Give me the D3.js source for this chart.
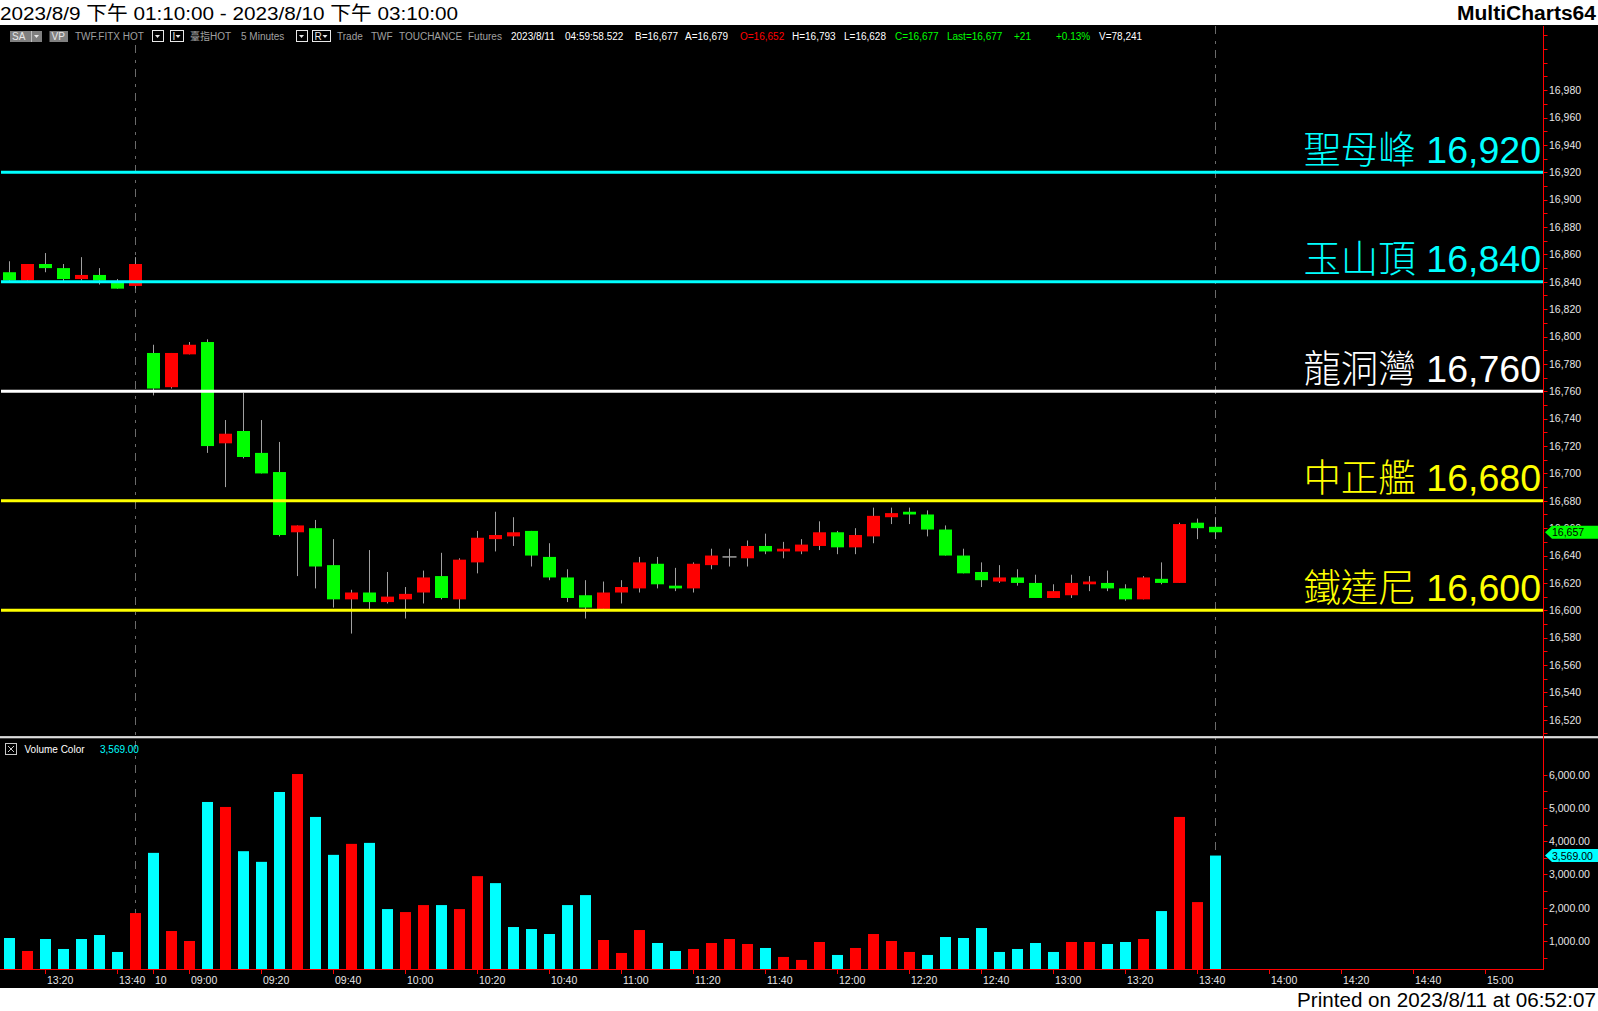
<!DOCTYPE html>
<html><head><meta charset="utf-8">
<script src="https://cdn.jsdelivr.net/npm/d3@7"></script>
<style>html,body{margin:0;padding:0;background:#fff;overflow:hidden}</style>
</head><body><svg id="c" width="1598" height="1011"></svg>
<script>
// ---------------- DATA ----------------
const day9Bars = ["13:10","13:15","13:20","13:25","13:30","13:35","13:40","13:45"];
const day10Bars = ["08:50","08:55","09:00","09:05","09:10","09:15","09:20","09:25","09:30","09:35","09:40","09:45","09:50","09:55",
  "10:00","10:05","10:10","10:15","10:20","10:25","10:30","10:35","10:40","10:45","10:50","10:55",
  "11:00","11:05","11:10","11:15","11:20","11:25","11:30","11:35","11:40","11:45","11:50","11:55",
  "12:00","12:05","12:10","12:15","12:20","12:25","12:30","12:35","12:40","12:45","12:50","12:55",
  "13:00","13:05","13:10","13:15","13:20","13:25","13:30","13:35","13:40","13:45"];
const futureSlots = ["13:50","13:55","14:00","14:05","14:10","14:15","14:20","14:25","14:30","14:35","14:40","14:45","14:50","14:55","15:00","15:05"];

const opens  = [16847,16841,16853,16850,16842,16845,16840,16837,
  16788,16763,16787,16796,16722,16731,16715,16701,16657,16660,16633,16608,16613,16606,16608,16613,16625,16608,
  16635,16652,16654,16658,16639,16624,16611,16601,16613,16616,16634,16618,16616,16633,16639,16638,16647,16643,
  16643,16647,16657,16646,16654,16668,16672,16670,16659,16640,16628,16621,16624,16620,16609,16611,16619,16620,
  16616,16608,16623,16620,16664,16661];
const highs  = [16855,16853,16861,16853,16858,16850,16842,16858,
  16794,16788,16796,16798,16739,16759,16739,16723,16662,16666,16652,16615,16644,16628,16617,16629,16642,16638,
  16658,16672,16668,16658,16649,16630,16622,16621,16622,16639,16639,16631,16635,16645,16645,16651,16656,16650,
  16652,16665,16658,16660,16675,16675,16675,16673,16662,16645,16635,16633,16630,16626,16619,16626,16625,16629,
  16619,16625,16635,16664,16667,16668];
const lows   = [16840,16840,16847,16840,16841,16838,16835,16835,
  16757,16762,16787,16715,16690,16711,16700,16654,16625,16616,16602,16583,16601,16605,16594,16605,16608,16601,
  16627,16643,16647,16632,16622,16606,16594,16600,16605,16613,16616,16614,16613,16630,16632,16632,16641,16638,
  16641,16644,16641,16641,16649,16663,16663,16654,16640,16627,16617,16620,16618,16609,16609,16609,16614,16614,
  16607,16608,16619,16620,16652,16652];
const closes = [16841,16853,16850,16842,16845,16841,16835,16853,
  16762,16788,16794,16720,16729,16712,16700,16655,16662,16632,16608,16613,16606,16610,16612,16624,16609,16637,
  16653,16655,16657,16640,16624,16609,16602,16613,16617,16635,16619,16616,16634,16640,16639,16647,16643,16645,
  16648,16657,16646,16655,16669,16671,16670,16659,16640,16627,16622,16624,16620,16609,16614,16620,16621,16616,
  16608,16624,16620,16663,16660,16657];
const volumes = [1090,700,1060,760,1060,1180,670,1840,
  3650,1300,1000,5180,5030,3700,3380,5480,6020,4730,3590,3920,3950,1960,1870,2080,2080,1960,
  2950,2740,1420,1360,1210,2080,2380,1030,640,1330,940,700,760,940,1060,910,790,520,
  430,970,580,790,1210,1000,670,580,1120,1090,1390,670,760,940,670,970,970,910,
  970,1060,1900,4730,2170,3569];
// volume colour: 1 = up (red), 0 = down (cyan)
const volumeUp = [0,1,0,0,0,0,0,1,
  0,1,1,0,1,0,0,0,1,0,0,1,0,0,1,1,0,1,
  1,0,0,0,0,0,0,1,1,1,0,0,1,1,1,1,0,1,
  1,1,0,1,1,1,1,0,0,0,0,0,0,0,0,1,1,0,
  0,1,0,1,1,0];

const levelNames  = ["聖母峰","玉山頂","龍洞灣","中正艦","鐵達尼"];
const levelPrices = [16920,16840,16760,16680,16600];

const priceTickValues = [16520,16540,16560,16580,16600,16620,16640,16660,16680,16700,16720,16740,16760,16780,16800,16820,16840,16860,16880,16900,16920,16940,16960,16980];
const volumeTickValues = [1000,2000,3000,4000,5000,6000];
const xTickKeys   = ["9 13:20","9 13:40","10 08:50","10 09:00","10 09:20","10 09:40","10 10:00","10 10:20","10 10:40","10 11:00","10 11:20","10 11:40","10 12:00","10 12:20","10 12:40","10 13:00","10 13:20","10 13:40","10 14:00","10 14:20","10 14:40","10 15:00"];
const xTickLabels = ["13:20","13:40","10","09:00","09:20","09:40","10:00","10:20","10:40","11:00","11:20","11:40","12:00","12:20","12:40","13:00","13:20","13:40","14:00","14:20","14:40","15:00"];
const sessionEndKeys = ["9 13:45","10 13:45"];
const lastPrice = 16657;
const lastVolume = 3569;

// ---------------- SETUP ----------------
const W = 1598, H = 1011;
const FONT = "'Liberation Sans', Arial, 'Noto Sans CJK TC', sans-serif";
const svg = d3.select("#c");

const barKeys = day9Bars.map(t => "9 " + t).concat(day10Bars.map(t => "10 " + t));
const slotKeys = barKeys.concat(futureSlots.map(t => "10 " + t));
const step = 18;
const x = d3.scalePoint().domain(slotKeys).range([9.5, 9.5 + step * (slotKeys.length - 1)]);
const yP = d3.scaleLinear().domain([16600, 16920]).range([610.3, 172.3]);
const yV = d3.scaleLinear().domain([128, 6000]).range([970, 774.7]);
const AXIS_X = 1543.5;
const PANE_SEP = 737;

const bars = barKeys.map((k, i) => ({k, o: opens[i], h: highs[i], l: lows[i], c: closes[i], v: volumes[i], up: volumeUp[i]}));

// background
svg.append("rect").attr("width", W).attr("height", H).attr("fill", "#fff");
svg.append("rect").attr("y", 25).attr("width", W).attr("height", 963).attr("fill", "#000");

// header
svg.append("text").attr("x", 0).attr("y", 19.5).attr("font-family", FONT).attr("font-size", 19)
  .attr("fill", "#000").attr("textLength", 458).attr("lengthAdjust", "spacingAndGlyphs")
  .text("2023/8/9 下午 01:10:00 - 2023/8/10 下午 03:10:00");
svg.append("text").attr("x", 1596).attr("y", 19.5).attr("text-anchor", "end").attr("font-family", FONT)
  .attr("font-weight", "bold").attr("font-size", 20).attr("fill", "#000")
  .attr("textLength", 139).attr("lengthAdjust", "spacingAndGlyphs")
  .text("MultiCharts64");
svg.append("text").attr("x", 1596).attr("y", 1007).attr("text-anchor", "end").attr("font-family", FONT)
  .attr("font-size", 20).attr("fill", "#000").attr("textLength", 299).attr("lengthAdjust", "spacingAndGlyphs")
  .text("Printed on 2023/8/11 at 06:52:07");

// toolbar
const tb = svg.append("g").attr("font-family", FONT).attr("font-size", 10);
function grayBox(x0, w, label) {
  tb.append("rect").attr("x", x0).attr("y", 31).attr("width", w).attr("height", 11).attr("fill", "#808080");
  tb.append("text").attr("x", x0 + 2).attr("y", 40).attr("fill", "#e8e8e8").text(label);
}
grayBox(10, 32, "SA");
tb.append("line").attr("x1", 31.5).attr("x2", 31.5).attr("y1", 31).attr("y2", 42).attr("stroke", "#c0c0c0");
tb.append("path").attr("d", "M34,35 L39,35 L36.5,38 Z").attr("fill", "#e8e8e8");
grayBox(49.5, 18.5, "VP");
function ddBox(x0, w, label) {
  tb.append("rect").attr("x", x0 + 0.5).attr("y", 30.5).attr("width", w).attr("height", 11)
    .attr("fill", "#000").attr("stroke", "#e8e8e8");
  if (label) tb.append("text").attr("x", x0 + 2.5).attr("y", 39.5).attr("fill", "#e8e8e8").text(label);
  const tx = label ? x0 + w - 5 : x0 + w / 2;
  tb.append("path").attr("d", `M${tx - 2.5},35 L${tx + 2.5},35 L${tx},38 Z`).attr("fill", "#e8e8e8");
}
const tbTexts = [
  [75, "TWF.FITX HOT", "#a0a0a0"], [190, "臺指HOT", "#a0a0a0"], [241, "5 Minutes", "#a0a0a0"],
  [337, "Trade", "#a0a0a0"], [371, "TWF", "#a0a0a0"], [399, "TOUCHANCE", "#a0a0a0"], [468, "Futures", "#a0a0a0"],
  [511, "2023/8/11", "#ffffff"], [565, "04:59:58.522", "#ffffff"], [635, "B=16,677", "#ffffff"], [685, "A=16,679", "#ffffff"],
  [740, "O=16,652", "#ff0000"], [792, "H=16,793", "#ffffff"], [844, "L=16,628", "#ffffff"], [895, "C=16,677", "#00ff00"],
  [947, "Last=16,677", "#00ff00"], [1014, "+21", "#00ff00"], [1056, "+0.13%", "#00ff00"], [1099, "V=78,241", "#ffffff"]
];
tbTexts.forEach(t => tb.append("text").attr("x", t[0]).attr("y", 39.5).attr("fill", t[2]).text(t[1]));
ddBox(152, 11, null);
ddBox(170, 13, "I");
ddBox(296, 11, null);
ddBox(312, 18, "R");

// session dashed lines
svg.append("g").selectAll("line").data(sessionEndKeys).join("line")
  .attr("x1", d => x(d)).attr("x2", d => x(d)).attr("y1", d => d.startsWith("9") ? 45 : 26).attr("y2", 969)
  .attr("stroke", "#6a6a6a").attr("stroke-width", 1).attr("stroke-dasharray", "8,7,3,6");

// candles
const cg = svg.append("g");
cg.selectAll("line.wick").data(bars).join("line").attr("class", "wick")
  .attr("x1", d => x(d.k)).attr("x2", d => x(d.k)).attr("y1", d => yP(d.h)).attr("y2", d => yP(d.l))
  .attr("stroke", "#a0a0a0").attr("stroke-width", 1);
cg.selectAll("rect.body").data(bars).join("rect").attr("class", "body")
  .attr("x", d => x(d.k) - (d.o === d.c ? 7 : 6.5))
  .attr("width", d => d.o === d.c ? 14 : 13)
  .attr("y", d => d.o === d.c ? yP(d.o) - 0.75 : yP(Math.max(d.o, d.c)))
  .attr("height", d => d.o === d.c ? 1.5 : Math.max(1.5, Math.abs(yP(d.o) - yP(d.c))))
  .attr("fill", d => d.c > d.o ? "#ff0000" : d.c < d.o ? "#00ff00" : "#a0a0a0");

// level lines + labels
const lv = svg.append("g");
const levelColors = ["#00ffff", "#00ffff", "#ffffff", "#ffff00", "#ffff00"];
levelPrices.forEach((p, i) => {
  lv.append("line").attr("x1", 1).attr("x2", AXIS_X - 0.5).attr("y1", yP(p)).attr("y2", yP(p))
    .attr("stroke", levelColors[i]).attr("stroke-width", 3);
  const t = lv.append("text").attr("x", 1541).attr("y", yP(p) - 9.5).attr("text-anchor", "end")
    .attr("font-family", FONT).attr("font-size", 37.5).attr("fill", levelColors[i]);
  t.append("tspan").attr("font-family", "'Noto Sans CJK TC', sans-serif").attr("font-weight", 300).text(levelNames[i]);
  t.append("tspan").text(" " + d3.format(",")(p));
});

// volume bars
svg.append("g").selectAll("rect").data(bars).join("rect")
  .attr("x", d => x(d.k) - 5.5).attr("width", 11)
  .attr("y", d => yV(d.v)).attr("height", d => yV.range()[0] - yV(d.v))
  .attr("fill", d => d.up ? "#ff0000" : "#00ffff");

// pane separator
svg.append("rect").attr("x", 0).attr("y", PANE_SEP - 1).attr("width", W).attr("height", 2.5).attr("fill", "#8a8a8a");
svg.append("rect").attr("x", 0).attr("y", PANE_SEP - 0.5).attr("width", W).attr("height", 1.2).attr("fill", "#ffffff");

// volume pane label
const vl = svg.append("g").attr("font-family", FONT).attr("font-size", 10);
vl.append("rect").attr("x", 5.5).attr("y", 743.5).attr("width", 11).attr("height", 11).attr("fill", "none").attr("stroke", "#c8c8c8");
vl.append("path").attr("d", "M8,746 L14,752 M14,746 L8,752").attr("stroke", "#c8c8c8");
vl.append("text").attr("x", 24.5).attr("y", 752.5).attr("fill", "#ffffff").text("Volume Color");
vl.append("text").attr("x", 100).attr("y", 752.5).attr("fill", "#00ffff").text(d3.format(",.2f")(lastVolume));

// axes lines
const ax = svg.append("g");
ax.append("line").attr("x1", AXIS_X).attr("x2", AXIS_X).attr("y1", 26).attr("y2", 970).attr("stroke", "#ff0000");
ax.append("line").attr("x1", 0).attr("x2", AXIS_X).attr("y1", 969.5).attr("y2", 969.5).attr("stroke", "#ff0000");

// price axis
const minorP = d3.range(16510, 17030, 10);
ax.selectAll("line.pt").data(minorP).join("line").attr("class", "pt")
  .attr("x1", AXIS_X).attr("x2", AXIS_X + 4).attr("y1", d => Math.round(yP(d)) + 0.5).attr("y2", d => Math.round(yP(d)) + 0.5)
  .attr("stroke", "#ff0000");
ax.selectAll("text.pl").data(priceTickValues).join("text").attr("class", "pl")
  .attr("x", 1549).attr("y", d => yP(d) + 3.8).attr("font-family", FONT).attr("font-size", 10.5)
  .attr("fill", "#e6e6e6").text(d => d3.format(",")(d));

// volume axis
const minorV = d3.range(500, 6500, 500);
ax.selectAll("line.vt").data(minorV).join("line").attr("class", "vt")
  .attr("x1", AXIS_X).attr("x2", AXIS_X + 4).attr("y1", d => Math.round(yV(d)) + 0.5).attr("y2", d => Math.round(yV(d)) + 0.5)
  .attr("stroke", "#ff0000");
ax.selectAll("text.vl").data(volumeTickValues).join("text").attr("class", "vl")
  .attr("x", 1549).attr("y", d => yV(d) + 3.8).attr("font-family", FONT).attr("font-size", 10.5)
  .attr("fill", "#e6e6e6").text(d => d3.format(",.2f")(d));

// time axis
ax.selectAll("line.xt").data(xTickKeys).join("line").attr("class", "xt")
  .attr("x1", d => x(d)).attr("x2", d => x(d)).attr("y1", 970).attr("y2", 974).attr("stroke", "#ff0000");
ax.selectAll("text.xl").data(xTickKeys).join("text").attr("class", "xl")
  .attr("x", d => x(d) + 1.5).attr("y", 984).attr("font-family", FONT).attr("font-size", 10.5)
  .attr("fill", "#e6e6e6").text((d, i) => xTickLabels[i]);

// markers
function marker(yc, label, fill) {
  const g = svg.append("g");
  g.append("path").attr("d", `M1545,${yc} L1552,${yc - 6.5} L1598,${yc - 6.5} L1598,${yc + 6.5} L1552,${yc + 6.5} Z`).attr("fill", fill);
  g.append("text").attr("x", 1552).attr("y", yc + 4).attr("font-family", FONT).attr("font-size", 10.5)
    .attr("fill", "#000").text(label);
}
marker(yP(lastPrice), d3.format(",")(lastPrice), "#00ff00");
marker(yV(lastVolume), d3.format(",.2f")(lastVolume), "#00ffff");
</script>
</body></html>
